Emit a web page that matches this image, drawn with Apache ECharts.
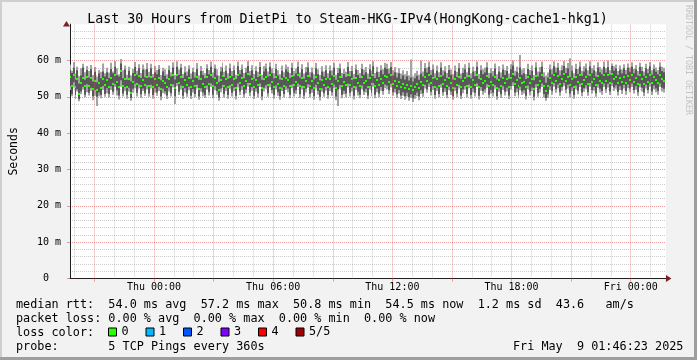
<!DOCTYPE html>
<html>
<head>
<meta charset="utf-8">
<script src="https://cdn.jsdelivr.net/npm/echarts@6/dist/echarts.min.js"></script>
<style>html,body{margin:0;padding:0;background:#f2f2f2}#c{width:697px;height:360px}</style>
</head>
<body>
<div id="c"></div>
<script>
// ---------- data ----------
const TITLE = 'Last 30 Hours from DietPi to Steam-HKG-IPv4(HongKong-cache1-hkg1)';
const X_LABEL_HOURS = [0, 6, 12, 18, 24];
const X_LABELS = ['Thu 00:00', 'Thu 06:00', 'Thu 12:00', 'Thu 18:00', 'Fri 00:00'];
const HOUR_LINES = [-4,-3,-2,-1,0,1,2,3,4,5,6,7,8,9,10,11,12,13,14,15,16,17,18,19,20,21,22,23,24,25];
const MAJOR_HOURS = [-3,0,3,6,9,12,15,18,21,24];
const START_HOUR = -4.2269;   // Wed 19:46:23 relative to Thu 00:00
const END_HOUR = 25.7731;     // Fri 01:46:23
const FIRST_SAMPLE_HOUR = -4.3;
const STEP_HOURS = 0.1;       // 360 s
const Y_MAX = 70;

// five sorted pings per step (ms): p1 lowest .. p5 highest, p3 = median
const p3 = [
55.4,53.1,56.0,52.6,54.9,50.8,53.7,55.2,52.9,55.6,
53.0,55.1,52.2,54.3,51.9,53.8,52.5,55.0,53.3,54.6,
52.8,55.3,53.6,56.1,54.0,52.7,57.2,53.1,55.0,52.6,
54.9,51.1,54.2,56.0,53.5,55.8,52.9,54.7,53.2,55.4,
53.0,55.6,52.7,54.8,53.4,55.2,52.3,54.5,53.8,52.6,
55.0,53.2,55.9,52.4,56.1,53.9,55.5,52.7,54.6,53.3,
55.2,52.6,54.4,53.0,55.6,52.3,54.8,53.5,52.8,55.4,
53.6,56.0,52.9,55.3,53.8,51.9,54.6,55.7,53.1,54.9,
52.7,55.5,53.4,54.9,52.5,56.0,53.8,55.2,52.9,54.3,
56.2,53.5,55.0,52.6,54.7,53.2,56.0,52.4,54.8,55.5,
53.3,55.9,54.2,52.8,55.4,53.6,52.5,54.9,53.1,55.2,
54.6,52.9,55.7,53.4,54.1,56.0,53.0,55.3,52.7,54.5,
55.8,53.1,54.4,52.5,55.6,53.9,52.3,54.7,53.3,55.0,
52.8,54.9,53.6,55.7,52.4,54.3,55.5,52.9,54.0,53.2,
55.9,53.4,54.8,52.6,55.2,53.7,52.9,55.4,53.8,54.5,
52.7,55.3,53.5,56.1,52.9,54.6,53.2,55.0,53.9,55.7,
55.4,54.1,55.9,53.6,54.5,53.0,54.2,52.7,53.6,52.5,
53.4,52.2,53.0,51.9,52.8,53.5,52.4,54.1,53.3,55.6,
54.4,56.0,53.7,55.2,52.8,54.9,53.1,55.8,53.6,54.7,
52.9,55.1,53.8,52.5,54.9,53.2,55.6,52.7,54.3,55.3,
53.1,55.7,52.8,54.6,53.4,56.0,52.6,55.0,53.9,54.4,
55.8,52.9,54.2,53.4,55.5,52.5,54.7,53.0,55.2,53.7,
54.8,52.7,55.3,56.3,53.5,54.6,52.9,55.1,53.8,54.2,
52.6,55.4,53.7,54.9,52.3,55.8,53.3,54.5,56.0,53.1,
51.6,53.0,55.2,53.9,56.1,54.4,55.7,53.6,55.0,56.2,
54.3,55.6,53.2,54.9,52.8,55.4,54.0,56.0,53.5,54.7,
55.5,53.6,56.1,54.2,55.0,53.3,55.8,54.5,53.9,56.0,
54.4,55.9,53.8,56.2,54.9,55.5,53.7,55.2,54.1,55.6,
53.9,55.7,54.6,56.0,54.2,55.3,53.6,55.9,54.8,53.5,
55.6,54.2,56.1,53.8,55.4,54.6,53.9,56.0,54.8,54.5
];
const p5 = [
58.9,57.2,59.6,56.4,58.3,55.7,57.9,59.1,56.8,58.5,
57.1,58.8,56.0,58.2,55.6,57.4,56.9,59.2,56.5,58.0,
56.7,59.4,57.0,59.9,57.8,56.2,60.4,57.3,58.6,56.1,
58.3,55.9,57.7,59.6,57.2,59.0,56.6,58.9,57.5,59.3,
56.9,59.1,56.3,58.5,57.4,58.8,56.0,58.0,57.6,56.2,
58.6,56.8,59.5,56.0,59.8,57.5,59.1,56.3,58.4,57.0,
58.7,56.4,58.0,56.8,59.3,55.9,58.5,57.2,56.5,59.0,
57.4,59.7,56.7,58.9,57.6,55.8,58.3,59.4,56.9,58.6,
56.5,59.2,57.1,58.6,56.1,59.7,57.4,58.9,56.6,58.0,
59.9,57.1,58.7,56.3,58.4,56.9,59.6,56.0,58.5,59.2,
57.0,59.5,57.8,56.5,59.1,57.3,56.2,58.6,56.8,58.9,
58.3,56.6,59.4,57.1,57.8,59.7,56.7,59.0,56.4,58.2,
59.5,56.8,58.1,56.2,59.3,57.6,56.0,58.4,57.0,58.7,
56.5,58.6,57.3,59.4,56.1,58.0,59.2,56.6,57.7,56.9,
59.6,57.1,58.5,56.3,58.9,57.4,56.6,59.1,57.5,58.2,
56.4,59.0,57.2,59.8,56.6,58.3,56.9,58.7,57.6,59.4,
59.1,57.8,59.6,57.3,58.2,56.7,57.9,56.4,57.3,56.2,
57.1,55.9,60.3,55.6,56.5,57.2,56.1,60.0,57.0,59.3,
58.1,59.7,57.4,58.9,56.5,58.6,56.8,59.5,57.3,58.4,
56.6,58.8,57.5,56.2,58.6,56.9,59.3,56.4,58.0,59.0,
56.8,59.4,56.5,58.3,57.1,59.7,56.3,58.7,57.6,58.1,
59.5,56.6,57.9,57.1,59.2,56.2,58.4,56.7,58.9,57.4,
58.5,56.4,59.0,60.0,57.2,58.3,56.6,61.5,57.5,57.9,
56.3,59.1,57.4,58.6,56.0,59.5,57.0,58.2,59.7,56.8,
55.8,56.7,58.9,57.6,59.8,58.1,59.4,57.3,58.7,59.9,
58.0,59.3,60.6,58.6,56.5,59.1,57.7,59.7,57.2,58.4,
59.2,57.3,59.8,57.9,58.7,57.0,59.5,58.2,57.6,59.7,
57.9,60.0,57.3,59.2,58.4,58.9,57.1,58.6,57.5,59.0,
57.4,59.2,58.1,59.5,57.7,58.8,57.1,59.4,58.3,57.0,
59.1,57.7,59.6,57.3,58.9,58.1,57.4,59.5,58.3,58.0
];
const p4 = [
57.5,56.6,58.0,54.8,57.3,53.7,55.9,58.1,54.7,57.4,
55.3,57.6,54.2,56.9,54.0,56.4,55.1,57.0,55.6,56.8,
55.2,57.7,56.5,58.3,56.0,55.6,59.2,55.1,57.5,54.7,
57.2,54.3,56.6,58.2,56.1,57.9,55.2,57.5,55.4,57.7,
55.4,57.9,55.3,56.8,56.2,57.6,54.6,57.0,55.8,54.9,
57.4,55.6,58.1,54.8,58.3,56.1,58.0,55.2,56.7,55.8,
57.6,55.0,56.9,55.3,57.7,54.7,57.1,56.0,55.1,57.8,
56.2,58.3,55.3,57.8,55.9,54.1,57.0,58.0,55.5,57.2,
55.0,57.8,55.7,57.3,54.9,58.4,56.2,57.5,55.1,56.7,
58.5,55.9,57.3,55.0,57.1,55.5,58.2,54.7,57.0,57.8,
55.6,58.3,56.5,55.1,57.7,55.9,54.8,57.2,55.4,57.5,
56.9,55.2,58.0,55.7,56.4,58.3,55.3,57.6,55.0,56.8,
58.1,55.4,56.7,54.8,57.9,56.2,54.6,57.0,55.6,57.3,
55.1,57.2,55.9,58.0,54.7,56.6,57.8,55.2,56.3,55.5,
58.2,55.7,57.1,54.9,57.5,56.0,55.2,57.7,56.1,56.8,
55.0,57.6,55.8,58.4,55.2,56.9,55.5,57.3,56.2,58.0,
57.7,56.4,58.2,55.9,56.8,55.3,56.5,55.0,55.9,54.8,
55.7,54.5,55.3,54.2,55.1,55.8,54.7,56.4,55.6,57.9,
56.7,58.3,56.0,57.5,55.1,57.2,55.4,58.1,55.9,57.0,
55.2,57.4,56.1,54.8,57.2,55.5,57.9,55.0,56.6,57.6,
55.4,58.0,55.1,56.9,55.7,58.3,54.9,57.3,56.2,56.7,
58.1,55.2,56.5,55.7,57.8,54.8,57.0,55.3,57.5,56.0,
57.1,55.0,57.6,58.6,55.8,56.9,55.2,58.1,56.1,56.5,
54.9,57.7,56.0,57.2,54.6,58.1,55.6,56.8,58.3,55.4,
53.9,55.3,57.5,56.2,58.4,56.7,58.0,55.9,57.3,58.5,
56.6,57.9,55.5,57.2,55.1,57.7,56.3,58.3,55.8,57.0,
57.8,55.9,58.4,56.5,57.3,55.6,58.1,56.8,56.2,58.3,
56.7,58.2,56.1,58.5,57.2,57.8,56.0,57.5,56.4,57.9,
56.2,58.0,56.9,58.3,56.5,57.6,55.9,58.2,57.1,55.8,
57.9,56.5,58.4,56.1,57.7,56.9,56.2,58.3,57.1,56.8
];
const p2 = [
52.9,50.7,54.0,50.5,52.1,49.4,51.5,52.8,50.6,53.5,
51.1,52.5,50.2,51.9,50.0,51.2,50.5,53.0,50.8,52.4,
50.8,52.9,51.4,53.5,51.8,50.4,54.6,50.9,52.7,50.6,
52.5,49.7,52.2,53.6,51.1,53.4,50.7,52.3,51.0,53.2,
50.9,53.3,50.5,52.4,51.2,52.8,50.1,52.2,51.5,50.4,
52.6,51.0,53.5,50.2,53.8,51.4,53.1,50.3,52.4,50.9,
52.8,50.3,52.1,50.8,53.3,50.1,52.4,51.2,50.5,53.1,
51.3,53.7,50.6,52.9,51.6,49.8,52.3,53.3,50.8,52.6,
50.5,53.2,51.1,52.6,50.3,53.7,51.5,52.9,50.7,52.0,
53.8,51.2,52.7,50.3,52.4,50.9,53.7,50.1,52.5,53.2,
51.0,53.6,51.9,50.5,53.1,51.3,50.2,52.6,50.8,52.9,
52.3,50.6,53.4,51.1,51.8,53.7,50.7,53.0,50.4,52.2,
53.5,50.8,52.1,50.2,53.3,51.6,50.0,52.4,51.0,52.7,
50.5,52.6,51.3,53.4,50.1,52.0,53.2,50.6,51.7,50.9,
53.6,51.1,52.5,50.3,52.9,51.4,50.6,53.1,51.5,52.2,
50.4,53.0,51.2,53.8,50.6,52.3,50.9,52.7,51.6,53.4,
53.1,51.8,53.6,51.3,52.2,50.7,51.9,50.4,51.3,50.2,
51.1,49.9,50.7,49.6,50.5,51.2,50.1,51.8,51.0,53.3,
52.1,53.7,51.4,52.9,50.5,52.6,50.8,53.5,51.3,52.4,
50.6,52.8,51.5,50.2,52.6,50.9,53.3,50.4,52.0,53.0,
50.8,53.4,50.5,52.3,51.1,53.7,50.3,52.7,51.6,52.1,
53.5,50.6,51.9,51.1,53.2,50.2,52.4,50.7,52.9,51.4,
52.5,50.4,53.0,54.0,51.2,52.3,50.6,52.8,51.5,51.9,
50.3,53.1,51.4,52.6,50.0,53.5,51.0,52.2,53.7,50.8,
49.7,50.7,52.9,51.6,53.8,52.1,53.4,51.3,52.7,53.9,
52.0,53.3,50.9,52.6,50.5,53.1,51.7,53.7,51.2,52.4,
53.2,51.3,53.8,51.9,52.7,51.0,53.5,52.2,51.6,53.7,
52.1,53.6,51.5,53.9,52.6,53.2,51.4,52.9,51.8,53.3,
51.6,53.4,52.3,53.7,51.9,53.0,51.3,53.6,52.5,51.2,
53.3,51.9,53.8,51.5,53.1,52.3,51.6,53.7,52.5,52.2
];
const p1 = [
51.9,50.2,52.6,49.4,51.5,48.8,50.7,52.0,49.9,51.3,
50.4,51.7,49.1,50.3,47.5,50.2,49.6,51.9,50.0,51.0,
49.8,51.9,50.6,52.7,50.4,49.3,52.8,50.1,51.6,49.5,
51.5,48.9,51.1,52.4,50.1,52.3,49.7,51.6,50.3,52.1,
50.0,52.3,49.5,51.2,50.3,51.6,49.1,51.0,50.7,49.4,
51.5,50.1,52.6,48.0,52.9,50.5,52.0,49.4,51.3,50.0,
51.8,49.4,51.2,49.9,52.3,49.2,51.4,50.2,49.7,52.0,
50.4,52.7,49.6,51.8,50.6,48.9,51.3,52.4,49.8,51.6,
49.5,52.2,50.1,51.6,49.3,52.6,50.5,51.9,49.8,51.0,
52.8,50.2,51.7,49.4,51.4,49.9,52.7,49.1,51.5,52.2,
50.0,52.6,50.9,49.5,52.1,50.3,49.2,51.6,49.8,51.9,
51.3,49.6,52.4,50.1,50.8,52.7,49.7,52.0,49.4,51.2,
52.5,49.8,51.1,49.2,52.3,50.6,49.0,51.4,50.0,51.7,
49.5,51.6,50.3,52.4,49.1,47.5,52.2,49.6,50.7,49.9,
52.6,50.1,51.5,49.3,51.9,50.4,49.6,52.1,50.5,51.2,
49.4,52.0,50.2,52.8,49.6,51.3,49.9,51.7,50.6,52.4,
52.1,50.8,52.6,50.3,51.2,49.7,50.9,49.4,50.3,49.2,
50.1,48.9,49.7,48.6,49.5,50.2,49.1,50.8,50.0,52.3,
51.1,52.7,50.4,51.9,49.5,51.6,49.8,52.5,50.3,51.4,
49.6,51.8,50.5,49.2,51.6,49.9,52.3,49.4,51.0,52.0,
49.8,52.4,49.5,51.3,50.1,52.7,49.3,51.7,50.6,51.1,
52.5,49.6,50.9,50.1,52.2,49.2,51.4,49.7,51.9,50.4,
51.5,49.4,52.0,53.0,50.2,51.3,49.6,51.8,50.5,50.9,
49.3,52.1,50.4,51.6,49.0,52.5,50.0,51.2,52.7,49.8,
48.9,49.7,51.9,50.6,52.8,51.1,52.4,50.3,51.7,52.9,
51.0,52.3,49.9,51.6,49.5,52.1,50.7,52.7,50.2,51.4,
52.2,50.3,52.8,50.9,51.7,50.0,52.5,51.2,50.6,52.7,
51.1,52.6,50.5,52.9,51.6,52.2,50.4,51.9,50.8,52.3,
50.6,52.4,51.3,52.7,50.9,52.0,50.3,52.6,51.5,50.2,
52.3,50.9,52.8,50.5,52.1,51.3,50.6,52.7,51.5,51.2
];

const LOSS_NAMES = ['0', '1', '2', '3', '4', '5/5'];
const LOSS_COLORS = ['#26ff00', '#00b8ff', '#0059ff', '#7e00ff', '#ff0000', '#a00000'];
const STAT_ROWS = [
  'median rtt:  54.0 ms avg  57.2 ms max  50.8 ms min  54.5 ms now  1.2 ms sd  43.6   am/s',
  'packet loss: 0.00 % avg  0.00 % max  0.00 % min  0.00 % now',
  'loss color:',
  'probe:       5 TCP Pings every 360s'
];
const DATE_TEXT = 'Fri May  9 01:46:23 2025';
const WATERMARK = 'RRDTOOL / TOBI OETIKER';

// ---------- style ----------
const MONO = '"DejaVu Sans Mono"';
const GRID_COL = 'rgba(143,143,143,0.45)';
const MGRID_COL = 'rgba(222,79,79,0.55)';
const AXIS_COL = '#1f1f1f';
const ARROW_COL = '#801f1f';
const G = { left: 65.96, top: 24.2, width: 600, height: 254.3 };

function bandSeries(lo, hi, color, z) {
  return {
    type: 'custom', silent: true, clip: true, z: z, animation: false,
    data: lo.map((v, i) => [FIRST_SAMPLE_HOUR + i * STEP_HOURS, v, hi[i]]),
    encode: { x: 0, y: [1, 2] },
    renderItem: function (params, api) {
      const t = api.value(0);
      const a = api.coord([t, api.value(2)]);
      const b = api.coord([t + STEP_HOURS, api.value(1)]);
      const x0 = Math.round(a[0]), x1 = Math.round(b[0]);
      return { type: 'rect', shape: { x: x0, y: a[1], width: x1 - x0, height: b[1] - a[1] },
        style: { fill: color } };
    }
  };
}

const medianSeries = {
  type: 'custom', silent: true, clip: true, z: 4, animation: false,
  data: p3.map((v, i) => [FIRST_SAMPLE_HOUR + i * STEP_HOURS, v]),
  encode: { x: 0, y: 1 },
  renderItem: function (params, api) {
    const t = api.value(0);
    const a = api.coord([t, api.value(1)]);
    const b = api.coord([t + STEP_HOURS, api.value(1)]);
    const x0 = Math.round(a[0]), x1 = Math.round(b[0]);
    return { type: 'rect', shape: { x: x0, y: Math.round(a[1] - 1), width: x1 - x0, height: 2 },
      style: { fill: LOSS_COLORS[0] } };
  }
};

const gridLineSeries = {
  type: 'line', data: [], z: 1, silent: true, animation: false,
  markLine: {
    silent: true, symbol: ['none', 'none'], animation: false,
    label: { show: false }, emphasis: { disabled: true },
    data: HOUR_LINES.map(h => ({
      xAxis: h,
      lineStyle: { color: MAJOR_HOURS.indexOf(h) >= 0 ? MGRID_COL : GRID_COL, type: [1, 1], width: 1 }
    }))
  }
};

const legendSeries = LOSS_NAMES.map((n, i) => ({
  type: 'bar', name: n, data: [], itemStyle: { color: LOSS_COLORS[i] }
}));

const chart = echarts.init(document.getElementById('c'), null, { renderer: 'canvas' });
chart.setOption({
  animation: false,
  backgroundColor: '#f2f2f2',
  grid: Object.assign({ show: true, backgroundColor: '#ffffff', borderWidth: 0, containLabel: false }, G),
  xAxis: {
    type: 'value', min: START_HOUR, max: END_HOUR,
    axisLine: { show: true, onZero: false, lineStyle: { color: AXIS_COL, width: 1 } },
    axisTick: { show: true, customValues: MAJOR_HOURS, length: 3, lineStyle: { color: MGRID_COL } },
    axisLabel: {
      customValues: X_LABEL_HOURS, margin: 4,
      fontFamily: MONO, fontSize: 10, color: '#000',
      formatter: v => X_LABELS[X_LABEL_HOURS.indexOf(v)]
    },
    splitLine: { show: false }
  },
  yAxis: {
    type: 'value', min: 0, max: Y_MAX, interval: 10,
    name: 'Seconds', nameLocation: 'middle', nameGap: 50,
    nameTextStyle: { fontFamily: MONO, fontSize: 11.5, color: '#000' },
    axisLine: { show: true, onZero: false, lineStyle: { color: AXIS_COL, width: 1 } },
    axisTick: { show: true, length: 3, lineStyle: { color: MGRID_COL } },
    axisLabel: {
      margin: 9, fontFamily: MONO, fontSize: 10, color: '#000', showMaxLabel: false,
      formatter: v => (v === 0 ? '0  ' : v + ' m')
    },
    splitLine: { show: true, showMinLine: false, showMaxLine: false,
      lineStyle: { color: MGRID_COL, type: [1, 1], width: 1 } },
    minorTick: { show: false, splitNumber: 5 },
    minorSplitLine: { show: true, lineStyle: { color: GRID_COL, type: [1, 1], width: 1 } }
  },
  legend: {
    data: LOSS_NAMES, left: 108, top: 325, padding: 0, orient: 'horizontal',
    itemWidth: 8, itemHeight: 8, itemGap: 16.9, icon: 'rect', selectedMode: false,
    itemStyle: { borderColor: '#000', borderWidth: 1 },
    textStyle: { fontFamily: MONO, fontSize: 11.8, color: '#000', lineHeight: 14 }
  },
  series: [
    gridLineSeries,
    bandSeries(p1, p5, '#a4a4a4', 2),
    bandSeries(p2, p4, '#585858', 3),
    medianSeries
  ].concat(legendSeries),
  graphic: [
    { type: 'rect', shape: { x: 0, y: 0, width: 697, height: 2 }, style: { fill: '#cfcfcf' }, silent: true },
    { type: 'rect', shape: { x: 0, y: 0, width: 2, height: 360 }, style: { fill: '#cfcfcf' }, silent: true },
    { type: 'rect', shape: { x: 0, y: 357, width: 697, height: 3 }, style: { fill: '#9e9e9e' }, silent: true },
    { type: 'rect', shape: { x: 694, y: 0, width: 3, height: 360 }, style: { fill: '#9e9e9e' }, silent: true },
    { type: 'polygon', shape: { points: [[G.left - 3, G.top + 2.3], [G.left + 0.5, G.top - 3.2], [G.left + 4, G.top + 2.3]] },
      style: { fill: ARROW_COL }, silent: true, z: 20 },
    { type: 'polygon', shape: { points: [[G.left + G.width, G.top + G.height - 3.5], [G.left + G.width + 5.5, G.top + G.height], [G.left + G.width, G.top + G.height + 3.5]] },
      style: { fill: ARROW_COL }, silent: true, z: 20 },
    { type: 'text', x: 347.5, y: 20, silent: true,
      style: { text: TITLE, font: '13.3px ' + MONO, fill: '#000', align: 'center', verticalAlign: 'middle' } },
    { type: 'text', x: 688, y: 5, rotation: -Math.PI / 2, silent: true,
      style: { text: WATERMARK, font: '8.3px ' + MONO, fill: '#c4c4c4', align: 'left', verticalAlign: 'middle' } },
    { type: 'text', x: 16, y: 304.5, silent: true,
      style: { text: STAT_ROWS[0], font: '11.8px ' + MONO, fill: '#000', align: 'left', verticalAlign: 'middle' } },
    { type: 'text', x: 16, y: 318.5, silent: true,
      style: { text: STAT_ROWS[1], font: '11.8px ' + MONO, fill: '#000', align: 'left', verticalAlign: 'middle' } },
    { type: 'text', x: 16, y: 332.5, silent: true,
      style: { text: STAT_ROWS[2], font: '11.8px ' + MONO, fill: '#000', align: 'left', verticalAlign: 'middle' } },
    { type: 'text', x: 16, y: 346.5, silent: true,
      style: { text: STAT_ROWS[3], font: '11.8px ' + MONO, fill: '#000', align: 'left', verticalAlign: 'middle' } },
    { type: 'text', x: 513, y: 346.5, silent: true,
      style: { text: DATE_TEXT, font: '11.8px ' + MONO, fill: '#000', align: 'left', verticalAlign: 'middle' } }
  ]
});
</script>
</body>
</html>
